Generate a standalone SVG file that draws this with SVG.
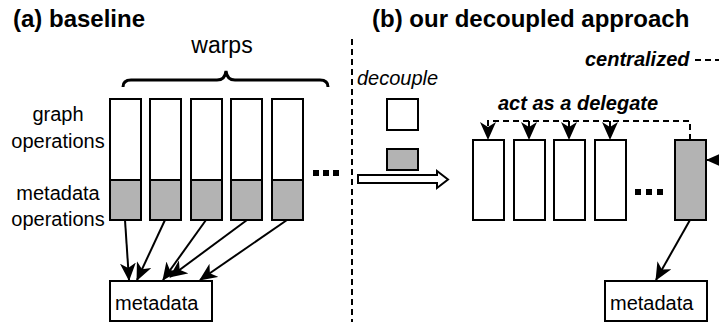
<svg xmlns="http://www.w3.org/2000/svg" width="719" height="322" viewBox="0 0 719 322">
<style>
text{font-family:"Liberation Sans",Arial,sans-serif;fill:#000}
.t{font-size:24px;font-weight:bold}
.l{font-size:20px}
.bi{font-size:20px;font-weight:bold;font-style:italic}
.w{fill:#fff;stroke:#000;stroke-width:2}
.g{fill:#b3b3b3;stroke:#000;stroke-width:2}
.c{fill:none;stroke:#000;stroke-width:2}
.d{fill:none;stroke:#000;stroke-width:2;stroke-dasharray:6 4}
</style>
<defs>
<marker id="arr" viewBox="0 0 18 16" refX="17" refY="8" markerWidth="18" markerHeight="16" markerUnits="userSpaceOnUse" orient="auto">
<path d="M0,0 L18,8 L0,16 L5,8 Z" fill="#000" stroke="none"/>
</marker>
</defs>
<rect width="719" height="322" fill="#fff"/>
<text class="t" x="13" y="27">(a) baseline</text>
<text class="t" x="372" y="27">(b) our decoupled approach</text>
<g id="warps-label">
<text class="l" x="222" y="53" text-anchor="middle" style="font-size:23px">warps</text>
<path class="c" style="stroke-width:3" d="M123,87 Q123,80 131,80 L217,80 Q225,80 226,71 Q227,80 235,80 L320,80 Q328,80 328,87"/>
</g>
<g id="row-labels">
<text class="l" x="58" y="121" text-anchor="middle">graph</text>
<text class="l" x="58" y="148" text-anchor="middle">operations</text>
<text class="l" x="58" y="200" text-anchor="middle">metadata</text>
<text class="l" x="58" y="226" text-anchor="middle">operations</text>
</g>
<g id="warp1"><rect class="w" x="110" y="99" width="31" height="81"/><rect class="g" x="110" y="180" width="31" height="40"/></g>
<g id="warp2"><rect class="w" x="150" y="99" width="31" height="81"/><rect class="g" x="150" y="180" width="31" height="40"/></g>
<g id="warp3"><rect class="w" x="191" y="99" width="31" height="81"/><rect class="g" x="191" y="180" width="31" height="40"/></g>
<g id="warp4"><rect class="w" x="231" y="99" width="31" height="81"/><rect class="g" x="231" y="180" width="31" height="40"/></g>
<g id="warp5"><rect class="w" x="272" y="99" width="31" height="81"/><rect class="g" x="272" y="180" width="31" height="40"/></g>
<g id="dots-left"><rect x="313" y="170" width="6" height="6"/><rect x="323" y="170" width="6" height="6"/><rect x="333" y="170" width="6" height="6"/></g>
<g id="metadata-left"><rect class="w" x="110" y="281" width="102" height="40"/><text class="l" x="115" y="310">metadata</text></g>
<g id="divider"><line class="d" x1="352" y1="39" x2="352" y2="322"/></g>
<g id="decouple">
<text class="l" x="357" y="85" font-style="italic">decouple</text>
<rect class="w" x="387" y="99" width="31" height="31"/>
<rect class="g" x="387" y="149" width="31" height="21"/>
<path class="w" d="M358,175 L437,175 L437,171 L448,179.5 L437,188 L437,183 L358,183 Z"/>
</g>
<g id="centralized"><text class="bi" x="585" y="66">centralized</text></g>
<g id="delegate-label"><text class="bi" x="498" y="110">act as a delegate</text></g>
<g id="rw1"><rect class="w" x="473" y="140" width="31" height="80"/></g>
<g id="rw2"><rect class="w" x="514" y="140" width="31" height="80"/></g>
<g id="rw3"><rect class="w" x="554" y="140" width="31" height="80"/></g>
<g id="rw4"><rect class="w" x="595" y="140" width="31" height="80"/></g>
<g id="delegate"><rect class="g" x="675" y="140" width="31" height="80"/></g>
<g id="dots-right"><rect x="635" y="189" width="6" height="6"/><rect x="646" y="189" width="6" height="6"/><rect x="657" y="189" width="6" height="6"/></g>
<g id="metadata-right"><rect class="w" x="605" y="281" width="102" height="40"/><text class="l" x="610" y="310">metadata</text></g>
<g id="connectors">
<line class="c" x1="125" y1="220" x2="129" y2="280" marker-end="url(#arr)"/>
<line class="c" x1="165" y1="220" x2="137" y2="280" marker-end="url(#arr)"/>
<line class="c" x1="206" y1="220" x2="163" y2="280" marker-end="url(#arr)"/>
<line class="c" x1="247" y1="220" x2="170" y2="277" marker-end="url(#arr)"/>
<line class="c" x1="287" y1="220" x2="200" y2="280" marker-end="url(#arr)"/>
<line class="d" x1="695" y1="60" x2="719" y2="60"/>
<path class="d" d="M690,140 V121 H488 V139" marker-end="url(#arr)"/>
<line class="d" x1="529" y1="121" x2="529" y2="139" marker-end="url(#arr)"/>
<line class="d" x1="569" y1="121" x2="569" y2="139" marker-end="url(#arr)"/>
<line class="d" x1="610" y1="121" x2="610" y2="139" marker-end="url(#arr)"/>
<line class="c" x1="730" y1="160" x2="707" y2="160" marker-end="url(#arr)"/>
<line class="c" x1="690" y1="220" x2="656" y2="280" marker-end="url(#arr)"/>
</g>
</svg>
